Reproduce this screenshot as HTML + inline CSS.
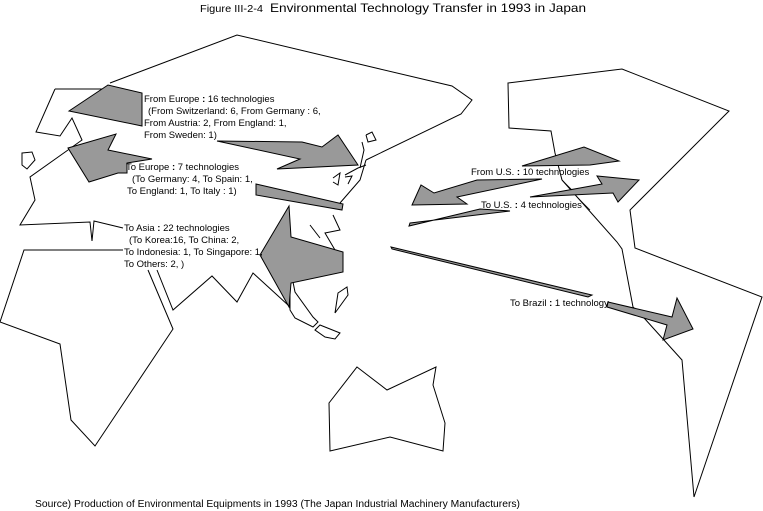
<!DOCTYPE html>
<html><head><style>
html,body{margin:0;padding:0;background:#fff;}
svg{display:block;}
text{font-family:"Liberation Sans",sans-serif;font-size:9.5px;fill:#000;}
</style></head><body>
<svg width="763" height="511" viewBox="0 0 763 511" xmlns="http://www.w3.org/2000/svg">
<g fill="none" stroke="#000" stroke-width="1">
<!-- Eurasia -->
<polyline points="110,83 237,35 380,69 452,86 472,100 461,114 366,160"/>
<polyline points="55,89 110,89"/>
<polyline points="55,89 36,132 60,136 72,118 82,140 68,150"/>
<polyline points="68,150 30,177 35,200 20,225 90,222 92,241 94,221 123,228"/>
<polygon points="22,153 32,152 35,160 27,169 22,165"/>
<polyline points="366,160 360,180 340,203"/>
<polyline points="333,215 340,230 325,233 335,250"/>
<polyline points="310,225 320,238"/>
<!-- Japan -->
<polyline points="360,168 364,150 362,142"/>
<polyline points="366,135 372,132 376,140 368,142 366,135"/>
<polyline points="333,178 340,173 338,185 333,182"/>
<polyline points="345,177 352,176 348,184"/>
<polyline points="345,175 358,168 366,165"/>
<!-- Africa -->
<polyline points="123,250 24,250 0,322 60,344 71,420 95,446 173,329 148,270"/>
<polyline points="157,270 173,310 212,276 237,302 253,273 288,305"/>
<polyline points="293,282 295,292 313,317 318,322 313,327 295,318 290,310 290,283"/>
<polygon points="315,330 320,325 340,333 335,339 325,337"/>
<polygon points="347,287 348,295 335,313 338,293"/>
<!-- Australia -->
<polygon points="357,367 387,390 436,367 433,385 445,423 443,451 390,437 330,451 329,403"/>
<!-- Americas -->
<polyline points="562,180 555,153 551,131 509,128 508,83 622,69 729,111 630,210 635,248 762,297 694,497 682,360 645,319 633,307 622,249 617,242 578,198 562,180"/>
</g>
<g fill="#999" stroke="#000" stroke-width="1">
<polygon points="69,111 108,85 142,93 142,126"/>
<polygon points="217,141 302,142 322,147 338,135 358,165 277,169 300,159"/>
<polygon points="68,148 116,134 108,150 152,159 127,163 127,173 118,173 89,182"/>
<polygon points="256,184 343,204 342,210 256,195"/>
<polygon points="289,206 291,237 343,252 343,272 291,283 289,307 260,255"/>
<polygon points="522,166 584,147 619,161 590,165"/>
<polygon points="542,179 477,180 434,193 421,185 412,205 467,204 457,197"/>
<polygon points="530,197 602,184 597,176 639,180 618,202 613,193"/>
<polygon points="410,223 510,211 480,209 409,226"/>
<polygon points="391,247 592,295 588,297 392,249"/>
<polygon points="608,302 672,317 677,298 693,329 663,340 667,325 607,307"/>
</g>
<g fill="none" stroke="#000" stroke-width="0.7">
<polyline points="562,180 572,190"/>
<polyline points="578,198 590,210"/>
</g>
<text x="200" y="12" style="font-size:10px" textLength="63" lengthAdjust="spacingAndGlyphs">Figure III-2-4</text>
<text x="270" y="12" style="font-size:12px" textLength="316" lengthAdjust="spacingAndGlyphs">Environmental Technology Transfer in 1993      in Japan</text>
<text x="144" y="102">From Europe <tspan font-weight="bold">:</tspan> 16 technologies</text>
<text x="148" y="114">(From Switzerland: 6, From Germany : 6,</text>
<text x="144" y="126">From Austria:  2, From England: 1,</text>
<text x="144" y="138">From Sweden: 1)</text>
<text x="126" y="170">To Europe <tspan font-weight="bold">:</tspan> 7 technologies</text>
<text x="132" y="182">(To Germany:  4, To Spain: 1,</text>
<text x="127" y="194">To England: 1, To Italy : 1)</text>
<text x="124" y="231">To Asia <tspan font-weight="bold">:</tspan> 22 technologies</text>
<text x="129" y="243">(To Korea:16, To China: 2,</text>
<text x="124" y="255">To Indonesia: 1, To Singapore: 1,</text>
<text x="124" y="267">To Others: 2, )</text>
<text x="471" y="175">From U.S. <tspan font-weight="bold">:</tspan> 10 technologies</text>
<text x="481" y="208">To U.S. <tspan font-weight="bold">:</tspan> 4 technologies</text>
<text x="510" y="306">To Brazil <tspan font-weight="bold">:</tspan> 1 technology</text>
<text x="35" y="507" style="font-size:10px" textLength="485" lengthAdjust="spacingAndGlyphs">Source) Production of Environmental  Equipments in 1993 (The Japan Industrial Machinery Manufacturers)</text>
</svg>
</body></html>
